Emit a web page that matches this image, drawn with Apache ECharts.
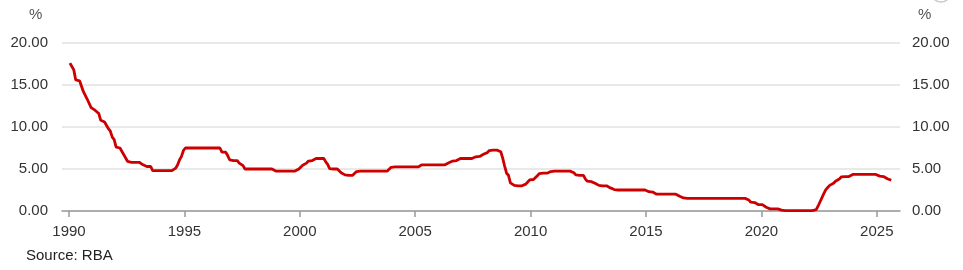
<!DOCTYPE html>
<html>
<head>
<meta charset="utf-8">
<script src="https://cdn.jsdelivr.net/npm/echarts@6/dist/echarts.min.js"></script>
<style>
html,body{margin:0;padding:0;background:#fff;}
#chart{width:963px;height:270px;}
</style>
</head>
<body>
<div id="chart"></div>
<script>
// Monthly cash rate (%), one row per year starting 1990
const startYear = 1990;
const monthlyRates = [
  [17.6,17.2,16.8,15.6,15.5,15.5,15.3,14.2,14.1,13.3,13.2,12.3], // 1990
  [12.1,12.0,12.0,11.6,10.8,10.6,10.6,10.5,9.8,9.5,8.8,8.5],      // 1991
  [7.6,7.5,7.5,7.5,6.7,6.5,5.9,5.8,5.8,5.8,5.8,5.8],              // 1992
  [5.8,5.8,5.5,5.3,5.3,5.3,5.3,4.8,4.8,4.8,4.8,4.8],              // 1993
  [4.8,4.8,4.8,4.8,4.8,4.8,4.8,5.1,5.5,6.1,6.5,7.2],              // 1994
  [7.5,7.5,7.5,7.5,7.5,7.5,7.5,7.5,7.5,7.5,7.5,7.5],              // 1995
  [7.5,7.5,7.5,7.5,7.5,7.5,7.5,7.0,7.0,7.0,6.6,6.1],              // 1996
  [6.0,6.0,6.0,6.0,5.7,5.5,5.4,5.0,5.0,5.0,5.0,5.0],              // 1997
  [5.0,5.0,5.0,5.0,5.0,5.0,5.0,5.0,5.0,5.0,5.0,4.75],             // 1998
  [4.75,4.75,4.75,4.75,4.75,4.75,4.75,4.75,4.75,4.75,4.95,5.0],   // 1999
  [5.0,5.45,5.5,5.7,5.95,6.0,6.0,6.2,6.25,6.25,6.25,6.25],        // 2000
  [6.25,5.85,5.55,5.05,5.0,5.0,5.0,5.0,4.8,4.55,4.5,4.3],         // 2001
  [4.25,4.25,4.25,4.25,4.45,4.7,4.75,4.75,4.75,4.75,4.75,4.75],   // 2002
  [4.75,4.75,4.75,4.75,4.75,4.75,4.75,4.75,4.75,4.75,4.95,5.2],   // 2003
  [5.25,5.25,5.25,5.25,5.25,5.25,5.25,5.25,5.25,5.25,5.25,5.25],  // 2004
  [5.25,5.25,5.45,5.5,5.5,5.5,5.5,5.5,5.5,5.5,5.5,5.5],           // 2005
  [5.5,5.5,5.5,5.5,5.7,5.75,5.75,5.95,6.0,6.0,6.2,6.25],          // 2006
  [6.25,6.25,6.25,6.25,6.25,6.25,6.25,6.45,6.5,6.5,6.7,6.75],     // 2007
  [6.75,6.95,7.2,7.25,7.25,7.25,7.25,7.25,7.05,6.3,5.35,4.5],     // 2008
  [4.25,3.35,3.25,3.05,3.0,3.0,3.0,3.0,3.0,3.2,3.45,3.7],         // 2009
  [3.75,3.75,3.95,4.2,4.45,4.5,4.5,4.5,4.5,4.5,4.7,4.75],         // 2010
  [4.75,4.75,4.75,4.75,4.75,4.75,4.75,4.75,4.75,4.75,4.55,4.3],   // 2011
  [4.25,4.25,4.25,4.25,3.8,3.55,3.5,3.5,3.5,3.3,3.25,3.05],       // 2012
  [3.0,3.0,3.0,3.0,2.8,2.75,2.75,2.55,2.5,2.5,2.5,2.5],           // 2013
  [2.5,2.5,2.5,2.5,2.5,2.5,2.5,2.5,2.5,2.5,2.5,2.5],              // 2014
  [2.5,2.3,2.25,2.25,2.05,2.0,2.0,2.0,2.0,2.0,2.0,2.0],           // 2015
  [2.0,2.0,2.0,2.0,1.8,1.75,1.75,1.55,1.5,1.5,1.5,1.5],           // 2016
  [1.5,1.5,1.5,1.5,1.5,1.5,1.5,1.5,1.5,1.5,1.5,1.5],              // 2017
  [1.5,1.5,1.5,1.5,1.5,1.5,1.5,1.5,1.5,1.5,1.5,1.5],              // 2018
  [1.5,1.5,1.5,1.5,1.5,1.3,1.05,1.0,1.0,0.8,0.75,0.75],           // 2019
  [0.75,0.75,0.45,0.25,0.25,0.25,0.25,0.25,0.25,0.25,0.1,0.05],   // 2020
  [0.05,0.05,0.05,0.05,0.05,0.05,0.05,0.05,0.05,0.05,0.05,0.05],  // 2021
  [0.05,0.05,0.05,0.05,0.15,0.6,1.1,1.6,2.1,2.55,2.8,3.05],       // 2022
  [3.1,3.3,3.55,3.6,3.8,4.05,4.1,4.1,4.1,4.1,4.3,4.35],           // 2023
  [4.35,4.35,4.35,4.35,4.35,4.35,4.35,4.35,4.35,4.35,4.35,4.35],  // 2024
  [4.35,4.15,4.1,4.1,3.9,3.85,3.85,3.65]                          // 2025
];
const xTickYears = [1990,1995,2000,2005,2010,2015,2020,2025];
const yTicks = [0,5,10,15,20];

const seriesData = [];
monthlyRates.forEach((row, yi) => {
  row.forEach((v, mi) => {
    seriesData.push([startYear + yi + (mi + 0.5) / 12, v]);
  });
});

const chart = echarts.init(document.getElementById('chart'), null, {renderer: 'canvas'});
const font = 'Arial, "Liberation Sans", Helvetica, sans-serif';
const yAxisCommon = {
  type: 'value',
  min: yTicks[0], max: yTicks[yTicks.length - 1], interval: 5,
  axisLine: {show: false},
  axisTick: {show: false},
  splitLine: {show: true, lineStyle: {color: '#e2e2e2', width: 1.5}},
  axisLabel: {
    fontSize: 15, color: '#333', fontFamily: font,
    formatter: v => v.toFixed(2)
  }
};
chart.setOption({
  animation: false,
  backgroundColor: '#fff',
  grid: {left: 62, right: 63, top: 43, bottom: 59, containLabel: false},
  xAxis: {
    type: 'value',
    min: 1989.697, max: 2026.005,
    axisLine: {show: true, lineStyle: {color: '#999', width: 1.5}},
    axisTick: {show: true, customValues: xTickYears, length: 6, lineStyle: {color: '#999', width: 1.5}},
    splitLine: {show: false},
    axisLabel: {
      customValues: xTickYears, margin: 13,
      fontSize: 15, color: '#333', fontFamily: font,
      formatter: v => String(Math.round(v))
    }
  },
  yAxis: [
    Object.assign({}, yAxisCommon, {position: 'left', axisLabel: Object.assign({}, yAxisCommon.axisLabel, {margin: 14})}),
    Object.assign({}, yAxisCommon, {position: 'right', splitLine: {show: false}, axisLabel: Object.assign({}, yAxisCommon.axisLabel, {margin: 12})})
  ],
  graphic: [
    {type: 'text', left: 29, top: 7, style: {text: '%', fontSize: 15, fill: '#555', fontFamily: font}},
    {type: 'text', left: 918, top: 7, style: {text: '%', fontSize: 15, fill: '#555', fontFamily: font}},
    {type: 'text', left: 26, top: 248, style: {text: 'Source: RBA', fontSize: 15, fill: '#222', fontFamily: font}},
    {type: 'circle', shape: {cx: 941, cy: -8, r: 10}, style: {fill: 'none', stroke: '#c8c8c8', lineWidth: 1.5}}
  ],
  series: [{
    type: 'line',
    data: seriesData,
    showSymbol: false,
    symbol: 'none',
    yAxisIndex: 0,
    lineStyle: {color: '#cc0000', width: 2.8},
    z: 5
  }]
});
</script>
</body>
</html>
